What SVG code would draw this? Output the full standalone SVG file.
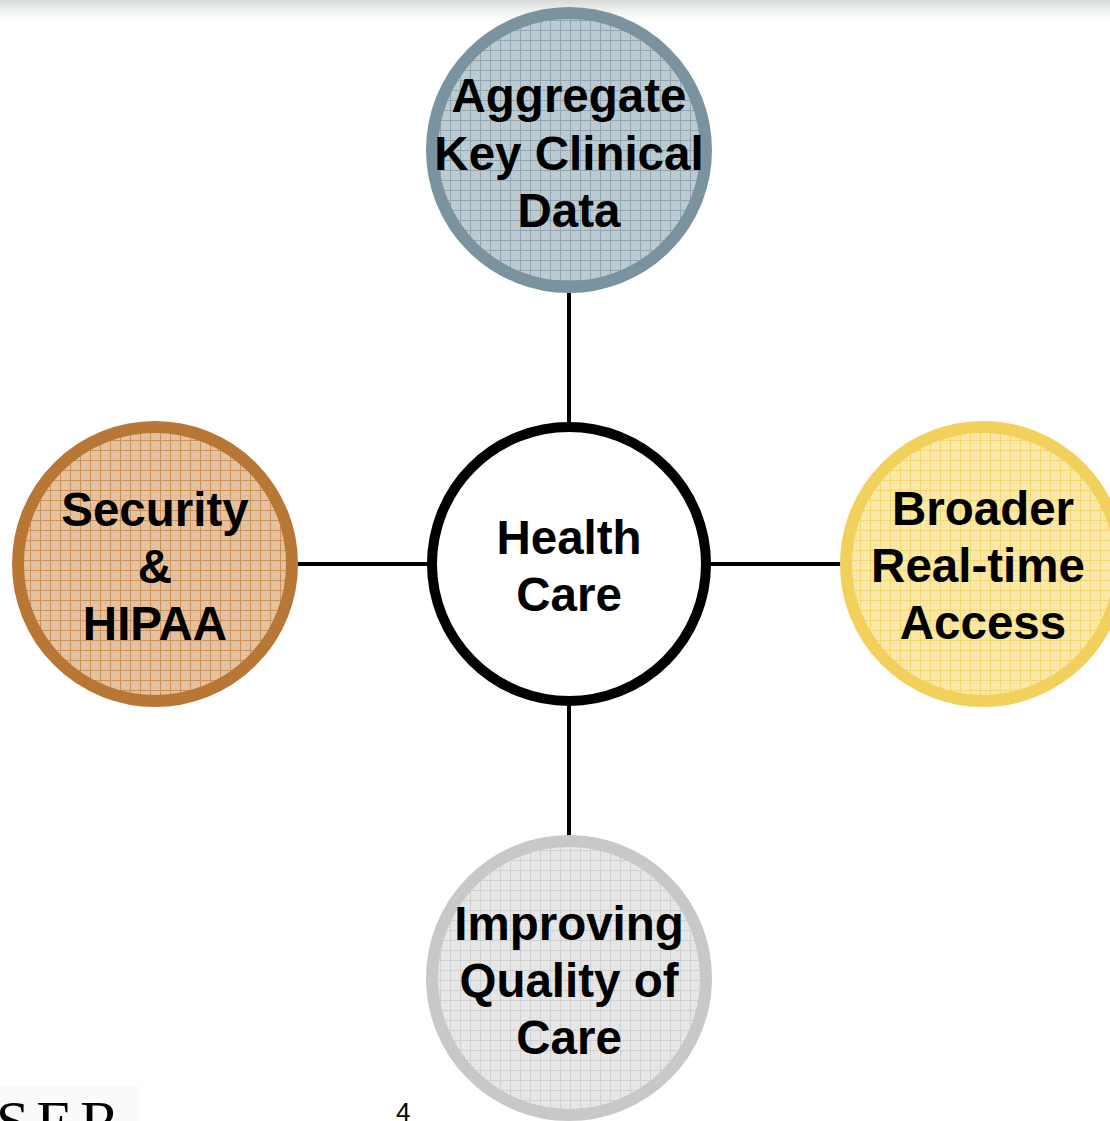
<svg xmlns="http://www.w3.org/2000/svg" width="1110" height="1121" viewBox="0 0 1110 1121">
<defs>
<linearGradient id="topband" x1="0" y1="0" x2="0" y2="1">
<stop offset="0" stop-color="#d6dad9"/>
<stop offset="0.5" stop-color="#eef0f0"/>
<stop offset="1" stop-color="#ffffff"/>
</linearGradient>
<pattern id="pBlue" patternUnits="userSpaceOnUse" width="10" height="10">
<rect width="10" height="10" fill="#bccbd2"/>
<path d="M0 0.5H10M0.5 0V10" stroke="#91a6b0" stroke-width="1"/>
</pattern>
<pattern id="pBrown" patternUnits="userSpaceOnUse" width="10" height="10">
<rect width="10" height="10" fill="#e4c29f"/>
<path d="M0 0.5H10M0.5 0V10" stroke="#c9925a" stroke-width="1"/>
</pattern>
<pattern id="pYellow" patternUnits="userSpaceOnUse" width="10" height="10">
<rect width="10" height="10" fill="#f9e8a9"/>
<path d="M0 0.5H10M0.5 0V10" stroke="#f2d672" stroke-width="1"/>
</pattern>
<pattern id="pGray" patternUnits="userSpaceOnUse" width="10" height="10">
<rect width="10" height="10" fill="#e6e6e6"/>
<path d="M0 0.5H10M0.5 0V10" stroke="#d0d0d0" stroke-width="1"/>
</pattern>
</defs>
<style>
.lbl{font-family:"Liberation Sans",Arial,sans-serif;font-weight:bold;font-size:47.5px;fill:#000;text-anchor:middle}
.conn{stroke:#000;stroke-width:4;fill:none}
.ring{stroke-width:12}
</style>
<rect x="0" y="0" width="1110" height="20" fill="url(#topband)"/>
<rect x="0" y="1086" width="140" height="35" fill="#fafafa"/>
<g id="connectors">
<line class="conn" x1="569" y1="293" x2="569" y2="426"/>
<line class="conn" x1="298" y1="564" x2="429" y2="564"/>
<line class="conn" x1="709" y1="564" x2="841" y2="564"/>
<line class="conn" x1="569" y1="703" x2="569" y2="836"/>
</g>
<g id="node-aggregate">
<circle class="ring" cx="569" cy="150" r="137" fill="url(#pBlue)" stroke="#7b939e"/>
<text class="lbl" x="569" y="112">Aggregate</text>
<text class="lbl" x="569" y="170">Key Clinical</text>
<text class="lbl" x="569" y="227">Data</text>
</g>
<g id="node-security">
<circle class="ring" cx="155" cy="564" r="137" fill="url(#pBrown)" stroke="#b97735"/>
<text class="lbl" x="155" y="526">Security</text>
<text class="lbl" x="155" y="583">&amp;</text>
<text class="lbl" x="155" y="640">HIPAA</text>
</g>
<g id="node-broader">
<circle class="ring" cx="983" cy="564" r="137" fill="url(#pYellow)" stroke="#f1d15b"/>
<text class="lbl" x="983" y="525">Broader</text>
<text class="lbl" x="978" y="582">Real-time</text>
<text class="lbl" x="983" y="639">Access</text>
</g>
<g id="node-quality">
<circle class="ring" cx="569" cy="978" r="137" fill="url(#pGray)" stroke="#c8c8c8"/>
<text class="lbl" x="569" y="940">Improving</text>
<text class="lbl" x="569" y="997">Quality of</text>
<text class="lbl" x="569" y="1054">Care</text>
</g>
<g id="node-health">
<circle cx="569" cy="564" r="137" fill="#ffffff" stroke="#000" stroke-width="10"/>
<text class="lbl" x="569" y="554">Health</text>
<text class="lbl" x="569" y="611">Care</text>
</g>
<text x="-4" y="1142" font-family="'Liberation Serif','Times New Roman',serif" font-size="60" letter-spacing="7" fill="#000">SER</text>
<text x="396" y="1121" font-family="'Liberation Sans',Arial,sans-serif" font-size="26" fill="#000">4</text>
</svg>
